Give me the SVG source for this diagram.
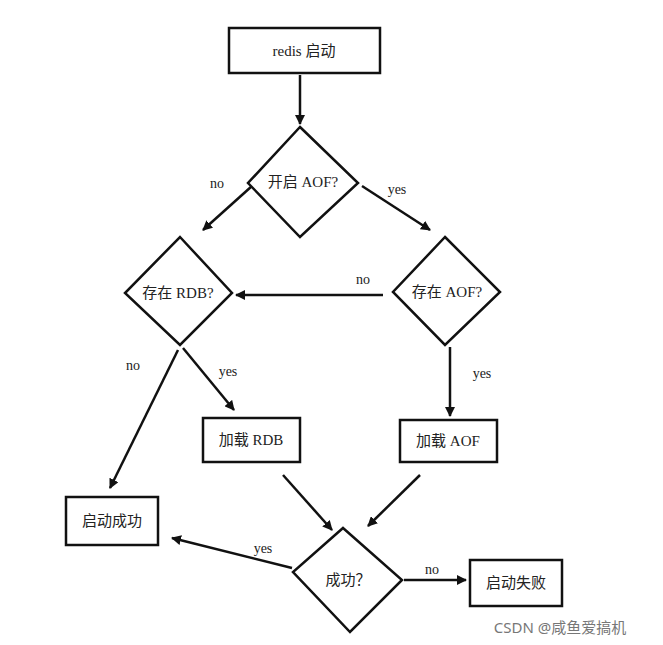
<svg xmlns="http://www.w3.org/2000/svg" width="663" height="645" viewBox="0 0 663 645">
<style>
.b{fill:#fff;stroke:#111;stroke-width:2.5}
.t{font-family:"Liberation Serif","Noto Sans CJK SC",serif;font-size:15px;fill:#222;text-anchor:middle;dominant-baseline:central}
.l{font-family:"Liberation Serif","Noto Sans CJK SC",serif;font-size:14px;fill:#222;text-anchor:middle}
.c{stroke:#111;stroke-width:2.5;fill:none;marker-end:url(#a)}
</style>
<defs><marker id="a" markerWidth="10" markerHeight="10" refX="9" refY="5" orient="auto" markerUnits="userSpaceOnUse"><path d="M0,0 L10,5 L0,10 Z" fill="#111"/></marker></defs>
<rect width="663" height="645" fill="#fff"/>
<g id="connectors">
<path class="c" d="M300,75 L300,124"/>
<path class="c" d="M252,186 L203,230"/><text class="l" x="217" y="188">no</text>
<path class="c" d="M362,186 L430,230"/><text class="l" x="397" y="194">yes</text>
<path class="c" d="M383,295 L236,295"/><text class="l" x="363" y="284">no</text>
<path class="c" d="M450,347 L450,416"/><text class="l" x="482" y="378">yes</text>
<path class="c" d="M183,348 L234,410"/><text class="l" x="228" y="376">yes</text>
<path class="c" d="M178,350 L110,488"/><text class="l" x="133" y="370">no</text>
<path class="c" d="M283,475 L332,530"/>
<path class="c" d="M420,475 L368,526"/>
<path class="c" d="M292,568 L172,538"/><text class="l" x="263" y="553">yes</text>
<path class="c" d="M404,580 L466,580"/><text class="l" x="432" y="574">no</text>
</g>
<g id="n1"><rect class="b" x="229" y="28" width="151" height="45"/><text class="t" x="304" y="51">redis 启动</text></g>
<g id="n2"><polygon class="b" points="300,127 358,183 300,237 248,183"/><text class="t" x="303" y="182">开启 AOF?</text></g>
<g id="n3"><polygon class="b" points="180,237 232,293 180,345 125,293"/><text class="t" x="178" y="293">存在 RDB?</text></g>
<g id="n4"><polygon class="b" points="445,237 500,292 445,345 393,292"/><text class="t" x="447" y="292">存在 AOF?</text></g>
<g id="n5"><rect class="b" x="203" y="418" width="97" height="44"/><text class="t" x="251" y="440">加载 RDB</text></g>
<g id="n6"><rect class="b" x="400" y="420" width="97" height="42"/><text class="t" x="448" y="441">加载 AOF</text></g>
<g id="n7"><rect class="b" x="66" y="497" width="92" height="48"/><text class="t" x="112" y="521">启动成功</text></g>
<g id="n8"><polygon class="b" points="343,528 402,580 350,632 293,572"/><text class="t" x="348" y="580">成功？</text></g>
<g id="n9"><rect class="b" x="470" y="560" width="92" height="46"/><text class="t" x="516" y="583">启动失败</text></g>
<text x="560" y="633" font-family="'Noto Sans','Noto Sans CJK SC',sans-serif" font-size="15" fill="#777" text-anchor="middle">CSDN @咸鱼爱搞机</text>
</svg>
